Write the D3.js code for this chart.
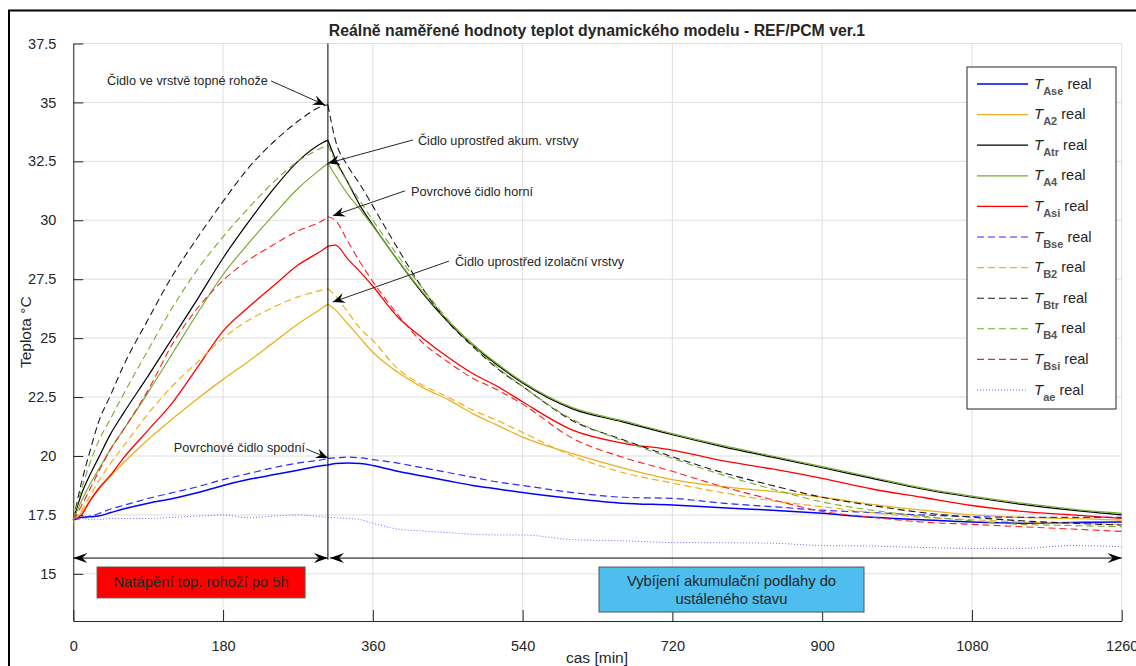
<!DOCTYPE html>
<html>
<head>
<meta charset="utf-8">
<script src="https://cdn.jsdelivr.net/npm/d3@7"></script>
<style>
  body { margin: 0; background: #fff; }
  text { font-family: "Liberation Sans", Arial, Helvetica, sans-serif; fill: #262626; }
</style>
</head>
<body>
<script>
// time grid in minutes, shared by all series
var times = [0, 10, 20, 30, 45, 60, 90, 120, 150, 180, 210, 240, 270, 300,
  306, 315, 330, 345, 360, 390, 420, 450, 480, 510, 540,
  600, 660, 720, 780, 840, 900, 960, 1020, 1080, 1140, 1200, 1260];

var TAse = [17.35, 17.4, 17.42, 17.45, 17.6, 17.75, 18.0, 18.2, 18.45, 18.75, 19.0, 19.2, 19.4, 19.6,
  19.62, 19.68, 19.7, 19.68, 19.6, 19.35, 19.15, 18.95, 18.75, 18.6, 18.45,
  18.2, 18.0, 17.92, 17.8, 17.7, 17.57, 17.4, 17.3, 17.2, 17.15, 17.18, 17.2];
var TA2 = [17.2, 17.6, 18.1, 18.55, 19.15, 19.7, 20.7, 21.6, 22.45, 23.25, 24.0, 24.8, 25.6, 26.3,
  26.45, 26.2, 25.6, 25.0, 24.4, 23.55, 22.9, 22.4, 21.8, 21.3, 20.8,
  20.1, 19.5, 19.0, 18.7, 18.5, 18.25, 17.95, 17.7, 17.5, 17.4, 17.35, 17.28];
var TAtr = [17.3, 18.4, 19.2, 19.9, 20.95, 21.8, 23.4, 25.05, 26.7, 28.4, 29.9, 31.3, 32.5, 33.3,
  33.4, 32.6, 31.6, 30.6, 29.8, 28.3, 26.9, 25.7, 24.7, 23.85, 23.1,
  22.0, 21.45, 20.9, 20.4, 19.95, 19.5, 19.05, 18.6, 18.25, 17.95, 17.7, 17.5];
var TA4 = [17.3, 18.1, 18.8, 19.4, 20.3, 21.1, 22.7, 24.4, 26.1, 27.7, 29.0, 30.2, 31.35, 32.25,
  32.42, 31.9, 31.1, 30.45, 29.75, 28.3, 26.95, 25.75, 24.75, 23.9, 23.15,
  22.05, 21.5, 20.95, 20.45, 20.0, 19.55, 19.1, 18.65, 18.3, 18.0, 17.75, 17.57];
var TAsi = [17.3, 17.5, 18.1, 18.6, 19.2, 19.9, 21.1, 22.3, 23.8, 25.3, 26.3, 27.2, 28.1, 28.75,
  28.9, 28.95, 28.35, 27.8, 27.2, 25.9, 25.0, 24.2, 23.5, 22.95, 22.3,
  21.1, 20.55, 20.25, 19.8, 19.45, 19.05, 18.6, 18.25, 17.9, 17.65, 17.5, 17.35];
var TBse = [17.3, 17.35, 17.45, 17.55, 17.75, 17.9, 18.2, 18.45, 18.7, 19.0, 19.25, 19.5, 19.7, 19.85,
  19.9, 19.92, 19.95, 19.92, 19.85, 19.7, 19.5, 19.3, 19.1, 18.9, 18.75,
  18.45, 18.25, 18.2, 18.0, 17.85, 17.7, 17.6, 17.5, 17.43, 17.4, 17.4, 17.4];
var TB2 = [17.3, 17.7, 18.3, 18.9, 19.7, 20.4, 21.8, 23.0, 24.0, 25.0, 25.75, 26.3, 26.75, 27.05,
  27.1, 26.8, 26.1, 25.4, 24.9, 23.7, 23.0, 22.5, 21.95, 21.5, 21.0,
  20.0, 19.3, 18.85, 18.45, 18.1, 17.85, 17.6, 17.4, 17.3, 17.2, 17.15, 17.1];
var TBtr = [17.3, 18.9, 20.2, 21.4, 22.6, 23.8, 25.8, 27.7, 29.3, 30.8, 32.2, 33.3, 34.2, 34.85,
  34.9, 33.4, 32.3, 31.5, 30.6, 28.8, 27.1, 25.7, 24.65, 23.7, 22.95,
  21.5, 20.7, 19.97, 19.3, 18.75, 18.25, 17.9, 17.6, 17.4, 17.25, 17.15, 17.07];
var TB4 = [17.3, 18.6, 19.7, 20.6, 21.6, 22.6, 24.5, 26.35, 27.95, 29.3, 30.5, 31.6, 32.5, 33.1,
  33.2, 32.5, 31.6, 30.8, 30.0, 28.5, 27.1, 25.8, 24.7, 23.75, 22.95,
  21.55, 20.65, 19.9, 19.2, 18.6, 18.05, 17.7, 17.45, 17.25, 17.1, 17.05, 17.0];
var TBsi = [17.3, 17.9, 18.6, 19.3, 20.3, 21.1, 22.8, 24.8, 26.3, 27.45, 28.3, 28.95, 29.55, 30.0,
  30.15, 30.0, 29.1, 28.2, 27.4, 26.0, 24.8, 24.0, 23.3, 22.8, 22.2,
  20.75, 19.95, 19.35, 18.7, 18.15, 17.65, 17.4, 17.2, 17.1, 17.0, 16.9, 16.8];
var Tae = [17.35, 17.35, 17.3, 17.3, 17.35, 17.35, 17.35, 17.4, 17.45, 17.5, 17.38, 17.45, 17.5, 17.42,
  17.4, 17.38, 17.35, 17.3, 17.15, 16.9, 16.82, 16.75, 16.68, 16.65, 16.65,
  16.45, 16.4, 16.33, 16.32, 16.3, 16.2, 16.18, 16.12, 16.08, 16.08, 16.2, 16.15];

var seriesNames = ["Ase", "A2", "Atr", "A4", "Asi", "Bse", "B2", "Btr", "B4", "Bsi", "ae"];
var seriesValues = [TAse, TA2, TAtr, TA4, TAsi, TBse, TB2, TBtr, TB4, TBsi, Tae];

var xTicks = [0, 180, 360, 540, 720, 900, 1080, 1260];
var yTicks = [15, 17.5, 20, 22.5, 25, 27.5, 30, 32.5, 35, 37.5];

var heatEnd = 306; // end of heating, minutes

// annotations in data units: text, text anchor point, arrow tail, arrow tip
var notes = [
  { text: "Čidlo ve vrstvě topné rohože", tx: 40.6, ty: 35.74, anchor: "start", x1: 237.8, y1: 35.91, x2: 302.5, y2: 34.89 },
  { text: "Čidlo uprostřed akum. vrstvy", tx: 414.2, ty: 33.19, anchor: "start", x1: 408.3, y1: 33.41, x2: 306, y2: 32.42 },
  { text: "Povrchové čidlo horní", tx: 405.9, ty: 31.03, anchor: "start", x1: 398.6, y1: 31.25, x2: 312, y2: 30.19 },
  { text: "Čidlo uprostřed izolační vrstvy", tx: 458.7, ty: 28.06, anchor: "start", x1: 451.5, y1: 28.27, x2: 312, y2: 26.53 },
  { text: "Povrchové čidlo spodní", tx: 278.5, ty: 20.17, anchor: "end", x1: 279.7, y1: 20.3, x2: 306, y2: 19.92 }
];

var W = 1136, H = 666;
var x = d3.scaleLinear().domain([0, 1260]).range([73.3, 1121.7]);
var y = d3.scaleLinear().domain([13, 37.5]).range([621, 43.5]);

var svg = d3.select("body").append("svg")
  .attr("width", W)
  .attr("height", H);

svg.append("rect").attr("width", W).attr("height", H).attr("fill", "#fff");
// figure frame
svg.append("rect")
  .attr("x", 9).attr("y", 10.5)
  .attr("width", 1140).attr("height", 680)
  .attr("fill", "none").attr("stroke", "#000").attr("stroke-width", 2);

// grid
var grid = svg.append("g").attr("stroke", "#dedede").attr("stroke-width", 1);
yTicks.forEach(function (v) {
  grid.append("line").attr("x1", x(0)).attr("x2", x(1260)).attr("y1", y(v)).attr("y2", y(v));
});
xTicks.forEach(function (v) {
  grid.append("line").attr("x1", x(v)).attr("x2", x(v)).attr("y1", y(13)).attr("y2", y(37.5));
});

// axes (MATLAB style ticks pointing inwards)
var yAxis = d3.axisLeft(y).tickValues(yTicks).tickSizeInner(-10).tickSizeOuter(0).tickPadding(17)
  .tickFormat(function (d) { return String(d); });
var xAxis = d3.axisBottom(x).tickValues(xTicks).tickSizeInner(-11).tickSizeOuter(0).tickPadding(20)
  .tickFormat(function (d) { return String(d); });

var gy = svg.append("g").attr("transform", "translate(" + x(0) + ",0)").call(yAxis);
var gx = svg.append("g").attr("transform", "translate(0," + y(13) + ")").call(xAxis);
[gx, gy].forEach(function (g) {
  g.select(".domain").attr("stroke", "#262626");
  g.selectAll(".tick line").attr("stroke", "#262626");
  g.selectAll(".tick text").attr("font-size", 14.5).attr("fill", "#262626")
    .style("font-family", '"Liberation Sans", Arial, sans-serif');
});

// title and axis labels
svg.append("text")
  .attr("x", 597).attr("y", 36)
  .attr("text-anchor", "middle")
  .attr("font-size", 15.8).attr("font-weight", "bold").attr("fill", "#000")
  .text("Reálně naměřené hodnoty teplot dynamického modelu - REF/PCM ver.1");
svg.append("text")
  .attr("x", 597).attr("y", 663)
  .attr("text-anchor", "middle").attr("font-size", 15.5)
  .text("cas [min]");
svg.append("text")
  .attr("transform", "translate(31," + ((y(13) + y(37.5)) / 2) + ") rotate(-90)")
  .attr("text-anchor", "middle").attr("font-size", 15.5)
  .text("Teplota °C");

// series
var styles = [
  { color: "#0000ff", dash: null, width: 1.5 },
  { color: "#EDB120", dash: null, width: 1.3 },
  { color: "#000000", dash: null, width: 1.2 },
  { color: "#77AC30", dash: null, width: 1.2 },
  { color: "#ff0000", dash: null, width: 1.3 },
  { color: "#2b2bff", dash: "7,4", width: 1.2 },
  { color: "#EDB120", dash: "7,4", width: 1.2 },
  { color: "#1a1a1a", dash: "7,4", width: 1.1 },
  { color: "#77AC30", dash: "7,4", width: 1.1 },
  { color: "#ff2020", dash: "7,4", width: 1.1 },
  { color: "#6b6bff", dash: "1,2", width: 1 }
];

var line = d3.line()
  .x(function (d) { return x(d[0]); })
  .y(function (d) { return y(d[1]); })
  .curve(d3.curveMonotoneX);

var plot = svg.append("g");
seriesValues.forEach(function (vals, i) {
  var pts = times.map(function (t, k) { return [t, vals[k]]; });
  var rise = pts.filter(function (p) { return p[0] <= heatEnd; });
  var fall = pts.filter(function (p) { return p[0] >= heatEnd; });
  plot.append("path")
    .attr("d", line(rise) + line(fall))
    .attr("fill", "none")
    .attr("stroke", styles[i].color)
    .attr("stroke-width", styles[i].width)
    .attr("stroke-dasharray", styles[i].dash)
    .attr("stroke-linejoin", "round");
});

// arrow head (MATLAB vback2 look)
function arrowHead(g, x1, y1, x2, y2, len, half) {
  var a = Math.atan2(y2 - y1, x2 - x1);
  var c = Math.cos(a), s = Math.sin(a);
  var bx = x2 - len * c, by = y2 - len * s;
  var nx = x2 - len * 0.65 * c, ny = y2 - len * 0.65 * s;
  var p = [
    [x2, y2],
    [bx - half * s, by + half * c],
    [nx, ny],
    [bx + half * s, by - half * c]
  ];
  g.append("path").attr("d", "M" + p.join("L") + "Z").attr("fill", "#000").attr("stroke", "none");
}

// heating end marker
var marks = svg.append("g");
marks.append("line")
  .attr("x1", x(heatEnd)).attr("x2", x(heatEnd))
  .attr("y1", y(37.5)).attr("y2", y(15.6))
  .attr("stroke", "#000").attr("stroke-width", 1);

// phase arrows
var arrowY = y(15.67);
function doubleArrow(t1, t2, leftHead) {
  var xa = x(t1), xb = x(t2);
  marks.append("line").attr("x1", xa).attr("x2", xb).attr("y1", arrowY).attr("y2", arrowY)
    .attr("stroke", "#000").attr("stroke-width", 1);
  if (leftHead) arrowHead(marks, xb, arrowY, xa, arrowY, 14, 5);
  arrowHead(marks, xa, arrowY, xb, arrowY, 14, 5);
}
doubleArrow(0, heatEnd, true);
doubleArrow(heatEnd + 2.5, 1260, true);

// annotations
notes.forEach(function (n) {
  svg.append("text")
    .attr("x", x(n.tx)).attr("y", y(n.ty))
    .attr("text-anchor", n.anchor)
    .attr("font-size", 12.7).attr("fill", "#262626")
    .text(n.text);
  svg.append("line")
    .attr("x1", x(n.x1)).attr("y1", y(n.y1)).attr("x2", x(n.x2)).attr("y2", y(n.y2))
    .attr("stroke", "#262626").attr("stroke-width", 1);
  arrowHead(svg, x(n.x1), y(n.y1), x(n.x2), y(n.y2), 12, 5);
});

// phase boxes
var boxes = [
  { t1: 28.6, t2: 278.5, v1: 15.29, v2: 13.98, fill: "#ff0000", lines: ["Natápění top. rohoží po 5h"] },
  { t1: 631.8, t2: 950.3, v1: 15.29, v2: 13.38, fill: "#4DBEEE", lines: ["Vybíjení akumulační podlahy do", "ustáleného stavu"] }
];
boxes.forEach(function (b) {
  var bx = x(b.t1), bw = x(b.t2) - x(b.t1), by = y(b.v1), bh = y(b.v2) - y(b.v1);
  svg.append("rect")
    .attr("x", bx).attr("y", by).attr("width", bw).attr("height", bh)
    .attr("fill", b.fill).attr("stroke", "#555").attr("stroke-width", 1);
  var n = b.lines.length;
  b.lines.forEach(function (s, k) {
    svg.append("text")
      .attr("x", bx + bw / 2)
      .attr("y", by + bh / 2 + 5 + (k - (n - 1) / 2) * 18)
      .attr("text-anchor", "middle").attr("font-size", 14.8).attr("fill", "#1a1a1a")
      .text(s);
  });
});

// legend
var lg = svg.append("g").attr("transform", "translate(967,67)");
lg.append("rect").attr("width", 149).attr("height", 342)
  .attr("fill", "#fff").attr("stroke", "#262626").attr("stroke-width", 1);
seriesNames.forEach(function (name, i) {
  var cy = 17 + i * 30.6;
  lg.append("line").attr("x1", 10).attr("x2", 61).attr("y1", cy).attr("y2", cy)
    .attr("stroke", styles[i].color).attr("stroke-width", styles[i].width)
    .attr("stroke-dasharray", styles[i].dash);
  var t = lg.append("text").attr("x", 67).attr("y", cy + 4.5).attr("font-size", 15);
  t.append("tspan").attr("font-style", "italic").text("T");
  t.append("tspan").attr("dy", 6).attr("font-size", 11).attr("font-weight", "bold").attr("fill", "#555").text(name);
  t.append("tspan").attr("dy", -6).attr("font-size", 14.5).text(" real");
});
</script>
</body>
</html>
